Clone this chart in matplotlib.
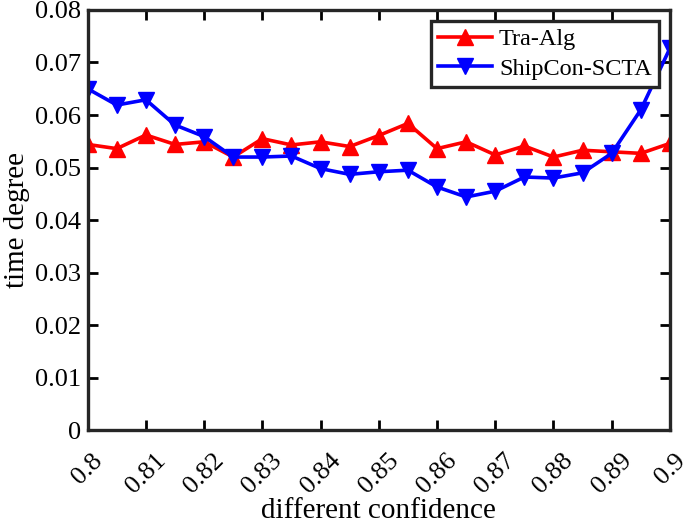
import numpy as np
import matplotlib.pyplot as plt

# confidence levels (x) and time degree values
confidence = [0.800, 0.805, 0.810, 0.815, 0.820, 0.825, 0.830, 0.835, 0.840, 0.845,
              0.850, 0.855, 0.860, 0.865, 0.870, 0.875, 0.880, 0.885, 0.890, 0.895, 0.900]
tra_alg = [0.0544, 0.0536, 0.0562, 0.0544, 0.0549, 0.0520, 0.0555, 0.0543, 0.0549, 0.0540,
           0.0561, 0.0584, 0.0536, 0.0549, 0.0524, 0.0541, 0.0520, 0.0533, 0.0530, 0.0527, 0.0546]
shipcon = [0.0650, 0.0619, 0.0629, 0.0581, 0.0559, 0.0520, 0.0520, 0.0522, 0.0498, 0.0487,
           0.0492, 0.0495, 0.0463, 0.0444, 0.0455, 0.0482, 0.0480, 0.0490, 0.0527, 0.0610, 0.0727]

x_ticks = [0.80, 0.81, 0.82, 0.83, 0.84, 0.85, 0.86, 0.87, 0.88, 0.89, 0.90]
x_labels = ['0.8', '0.81', '0.82', '0.83', '0.84', '0.85', '0.86', '0.87', '0.88', '0.89', '0.9']
y_ticks = [0, 0.01, 0.02, 0.03, 0.04, 0.05, 0.06, 0.07, 0.08]
y_labels = ['0', '0.01', '0.02', '0.03', '0.04', '0.05', '0.06', '0.07', '0.08']

plt.rcParams['font.family'] = ['Liberation Serif', 'DejaVu Serif']
plt.rcParams['mathtext.fontset'] = 'stix'

fig = plt.figure(figsize=(6.85, 5.24), dpi=100)
ax = fig.add_axes([0.128, 0.179, 0.850, 0.802])

ax.plot(confidence, tra_alg, color='#ff0000', marker='^', markersize=12,
        linewidth=2.6, label='Tra-Alg')
ax.plot(confidence, shipcon, color='#0000ff', marker='v', markersize=12,
        linewidth=2.6, label='ShipCon-SCTA')

ax.set_xlim(0.8, 0.9)
ax.set_ylim(0, 0.08)
ax.set_xticks(x_ticks)
ax.set_xticklabels(x_labels, rotation=45, ha='center')
ax.set_yticks(y_ticks)
ax.set_yticklabels(y_labels)
ax.tick_params(direction='in', length=7, width=2, labelsize=19,
               top=True, right=True, pad=5)
ax.tick_params(axis='x', pad=14)
for s in ax.spines.values():
    s.set_linewidth(2.4)
    s.set_color('#262626')

ax.set_xlabel('different confidence', fontsize=21, labelpad=0)
ax.set_ylabel('time degree', fontsize=21, labelpad=3)

leg = ax.legend(loc='upper right', fontsize=17.5, fancybox=False, framealpha=1,
                borderpad=0.3, handlelength=2.2, handletextpad=0.3,
                labelspacing=0.3, borderaxespad=0.45)
leg.get_frame().set_edgecolor('#262626')
leg.get_frame().set_linewidth(2.4)

fig.savefig('out.png', dpi=100)
